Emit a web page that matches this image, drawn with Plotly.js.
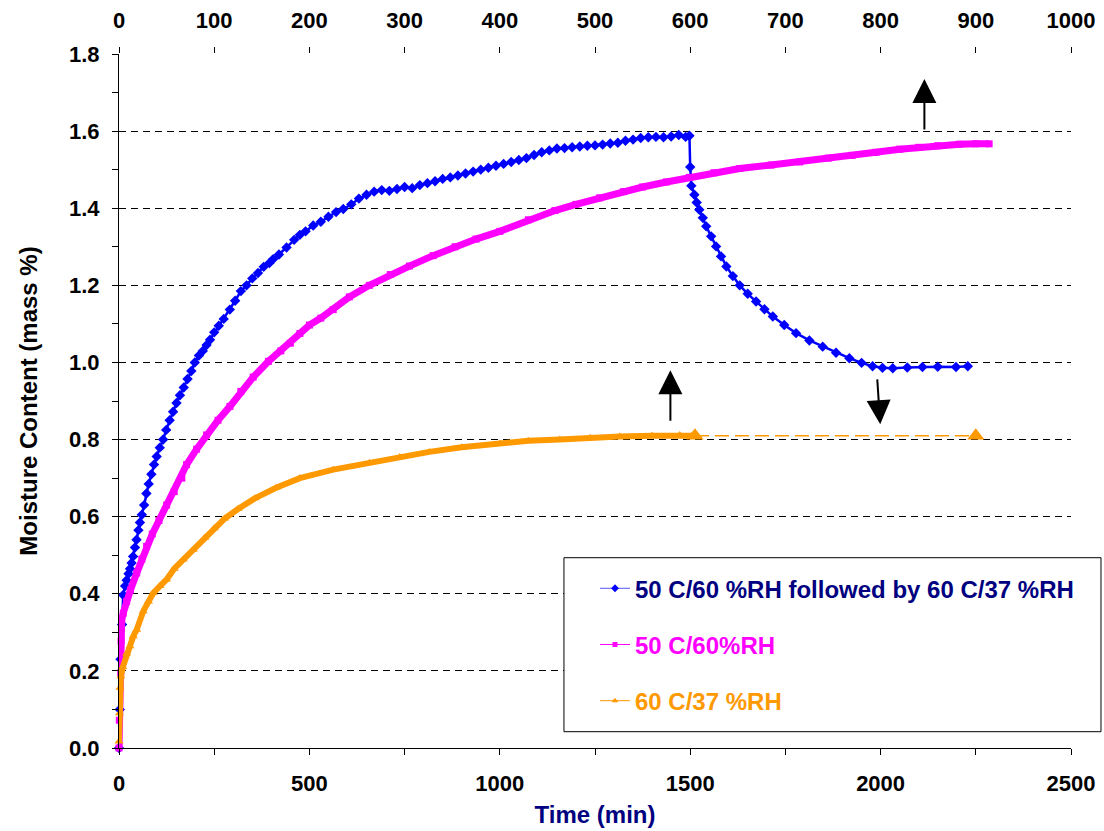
<!DOCTYPE html>
<html>
<head>
<meta charset="utf-8">
<script src="https://cdn.plot.ly/plotly-3.0.1.min.js"></script>
<style>
  html, body { margin: 0; padding: 0; background: #ffffff; }
  #chart { width: 1104px; height: 831px; }
</style>
</head>
<body>
<div id="chart"></div>
<script>
// Sorption run: 50 C/60 %RH, then switched to 60 C/37 %RH (bottom time axis, min)
const switchTime = [0, 2, 4, 8, 11, 16, 20, 25, 29, 33, 37, 42, 46, 51, 55, 60, 66, 72, 78, 85,
  92, 99, 107, 116, 124, 133, 142, 151, 160, 170, 180, 190, 199, 210, 220, 230, 239, 250, 262, 275,
  291, 305, 320, 335, 350, 365, 380, 395, 405, 420, 440, 460, 475, 490, 510, 530, 550, 570, 589, 610,
  630, 650, 670, 690, 710, 730, 750, 770, 790, 810, 830, 850, 870, 890, 910, 930, 950, 970, 990, 1010,
  1030, 1050, 1070, 1090, 1110, 1130, 1150, 1170, 1190, 1210, 1230, 1250, 1270, 1290, 1310, 1330, 1350, 1370, 1390, 1410,
  1430, 1450, 1470, 1488, 1498, 1500, 1503, 1511, 1517, 1524, 1533, 1542, 1555, 1568, 1581, 1595, 1612, 1630, 1651, 1673,
  1695, 1717, 1747, 1778, 1813, 1848, 1883, 1918, 1950, 1979, 2005, 2032, 2070, 2110, 2150, 2198, 2229];
const switchMoisture = [0, 0.10, 0.23, 0.32, 0.397, 0.42, 0.435, 0.452, 0.465, 0.48, 0.497, 0.52, 0.54, 0.565, 0.585, 0.605, 0.63, 0.66, 0.685, 0.71,
  0.735, 0.756, 0.779, 0.80, 0.825, 0.85, 0.872, 0.895, 0.915, 0.935, 0.957, 0.978, 1.0, 1.018, 1.03, 1.045, 1.059, 1.078, 1.095, 1.113,
  1.137, 1.16, 1.185, 1.20, 1.218, 1.232, 1.248, 1.258, 1.268, 1.28, 1.298, 1.318, 1.331, 1.34, 1.355, 1.365, 1.378, 1.39, 1.398, 1.41,
  1.425, 1.435, 1.443, 1.447, 1.445, 1.45, 1.455, 1.452, 1.46, 1.465, 1.47, 1.476, 1.48, 1.485, 1.49, 1.495, 1.50, 1.505, 1.51, 1.515,
  1.52, 1.525, 1.53, 1.538, 1.545, 1.55, 1.555, 1.556, 1.558, 1.56, 1.562, 1.563, 1.565, 1.568, 1.57, 1.575, 1.578, 1.582, 1.584, 1.585,
  1.584, 1.586, 1.59, 1.585, 1.588, 1.507, 1.458, 1.435, 1.415, 1.396, 1.375, 1.353, 1.327, 1.301, 1.275, 1.249, 1.224, 1.20, 1.178, 1.158,
  1.138, 1.119, 1.097, 1.076, 1.057, 1.041, 1.025, 1.011, 0.999, 0.990, 0.986, 0.985, 0.987, 0.988, 0.989, 0.988, 0.99];

// 50 C/60 %RH (top time axis, min)
const humidTime = [0, 0.3, 1.8, 2.2, 2.8, 4.5, 8, 12, 18.6, 24, 29, 35, 42, 50, 58, 66, 71, 81.5, 92, 104,
  116.5, 128, 141, 157, 170, 180, 190, 200, 212, 225, 242, 263, 285, 305, 330, 353, 375, 400, 430, 458,
  480, 505, 530, 550, 575, 599, 625, 652, 685, 715, 745, 770, 795, 820, 840, 860, 883, 900, 914];
const humidMoisture = [0, 0.072, 0.195, 0.277, 0.333, 0.35, 0.38, 0.41, 0.454, 0.49, 0.523, 0.555, 0.59, 0.63, 0.665, 0.70, 0.735, 0.775, 0.812, 0.85,
  0.886, 0.925, 0.962, 1.003, 1.03, 1.05, 1.075, 1.097, 1.115, 1.137, 1.17, 1.20, 1.228, 1.25, 1.277, 1.30, 1.32, 1.34, 1.37, 1.394,
  1.41, 1.427, 1.443, 1.455, 1.468, 1.48, 1.492, 1.503, 1.512, 1.52, 1.53, 1.537, 1.545, 1.553, 1.558, 1.562, 1.566, 1.567, 1.567];

// 60 C/37 %RH (top time axis, min)
const dryTime = [0, 0.5, 1, 2, 4, 8, 11.5, 15, 18.6, 25.5, 31, 36, 43, 50, 58, 67.5, 78, 90, 100, 111,
  125, 143, 165, 190, 225, 263, 295, 326, 360, 400, 430, 463, 495, 526, 560, 589, 602];
const dryMoisture = [0.017, 0.09, 0.156, 0.186, 0.21, 0.245, 0.264, 0.29, 0.307, 0.355, 0.38, 0.402, 0.42, 0.437, 0.465, 0.489, 0.514, 0.545, 0.57, 0.595,
  0.62, 0.648, 0.675, 0.70, 0.722, 0.74, 0.755, 0.768, 0.78, 0.79, 0.797, 0.80, 0.805, 0.808, 0.81, 0.812, 0.81];
const dryEndTime = [605, 900];
const dryEndMoisture = [0.81, 0.81];

// Legend labels
const seriesNames = [
  '50 C/60 %RH followed by 60 C/37 %RH',
  '50 C/60%RH',
  '60 C/37 %RH'
];

// Arrows showing which time axis each curve is read against: [x tail, y tail, x tip, y tip] on the bottom axis
const axisArrows = [
  [2115, 1.60, 2115, 1.735],
  [1448, 0.845, 1448, 0.98],
  [1991, 0.96, 1999, 0.84]
];

const FONT = 'Liberation Sans, Arial, sans-serif';
const BLUE = '#0000FF', MAGENTA = '#FF00FF', ORANGE = '#FF9900', NAVY = '#000080';

const traces = [
  {
    x: humidTime, y: humidMoisture, xaxis: 'x2', yaxis: 'y', type: 'scatter', mode: 'lines+markers',
    line: { color: MAGENTA, width: 7 }, marker: { symbol: 'square', size: 7, color: MAGENTA },
    showlegend: false, cliponaxis: false, hoverinfo: 'skip'
  },
  {
    x: dryTime, y: dryMoisture, xaxis: 'x2', yaxis: 'y', type: 'scatter', mode: 'lines+markers',
    line: { color: ORANGE, width: 6 }, marker: { symbol: 'triangle-up', size: 8, color: ORANGE },
    showlegend: false, cliponaxis: false, hoverinfo: 'skip'
  },
  {
    x: dryEndTime, y: dryEndMoisture, xaxis: 'x2', yaxis: 'y', type: 'scatter', mode: 'lines+markers',
    line: { color: ORANGE, width: 1.5, dash: '14px,6px' }, marker: { symbol: 'triangle-up', size: 15, color: ORANGE },
    showlegend: false, cliponaxis: false, hoverinfo: 'skip'
  },
  {
    x: switchTime, y: switchMoisture, xaxis: 'x', yaxis: 'y', type: 'scatter', mode: 'lines+markers',
    line: { color: BLUE, width: 2.5 }, marker: { symbol: 'diamond', size: 8, color: BLUE },
    showlegend: false, cliponaxis: false, hoverinfo: 'skip'
  },
  // legend entries
  {
    x: [null], y: [null], type: 'scatter', mode: 'lines+markers', legendgroup: 'a',
    name: '<span style="color:' + NAVY + '">' + seriesNames[0] + '</span>',
    line: { color: '#5555FF', width: 1 }, marker: { symbol: 'diamond', size: 6, color: BLUE }
  },
  {
    x: [null], y: [null], type: 'scatter', mode: 'lines+markers', legendgroup: 'b',
    name: '<span style="color:' + MAGENTA + '">' + seriesNames[1] + '</span>',
    line: { color: MAGENTA, width: 1 }, marker: { symbol: 'square', size: 5, color: MAGENTA }
  },
  {
    x: [null], y: [null], type: 'scatter', mode: 'lines+markers', legendgroup: 'c',
    name: '<span style="color:' + ORANGE + '">' + seriesNames[2] + '</span>',
    line: { color: ORANGE, width: 1 }, marker: { symbol: 'triangle-up', size: 6, color: ORANGE }
  }
];

const tickFont = { family: FONT, size: 22, color: '#000000', weight: 'bold' };

const annotations = axisArrows.map(a => ({
  x: a[2], y: a[3], ax: a[0], ay: a[1], xref: 'x', yref: 'y', axref: 'x', ayref: 'y',
  text: '', showarrow: true, arrowhead: 2, arrowsize: 2.4, arrowwidth: 2, arrowcolor: '#000000', standoff: 0, startstandoff: 0
}));

const layout = {
  width: 1104, height: 831,
  margin: { l: 119, r: 33, t: 54, b: 83, pad: 0 },
  paper_bgcolor: '#ffffff', plot_bgcolor: '#ffffff',
  font: { family: FONT, color: '#000000' },
  showlegend: true,
  xaxis: {
    range: [0, 2500], dtick: 500, tick0: 0, showgrid: false, zeroline: false,
    showline: true, linecolor: '#000000', linewidth: 1,
    ticks: 'outside', ticklen: 6, tickcolor: '#000000', tickwidth: 1,
    minor: { dtick: 250, ticks: 'outside', ticklen: 6, tickcolor: '#000000', tickwidth: 1, showgrid: false },
    tickfont: tickFont, ticklabelstandoff: 10,
    title: { text: 'Time (min)', font: { family: FONT, size: 24, color: NAVY, weight: 'bold' }, standoff: 10 },
    fixedrange: true
  },
  xaxis2: {
    overlaying: 'x', side: 'top', anchor: 'y', range: [0, 1000], dtick: 100, tick0: 0,
    showgrid: false, zeroline: false, showline: false,
    ticks: 'outside', ticklen: 6, tickcolor: '#000000', tickwidth: 1,
    tickfont: tickFont, ticklabelstandoff: 10, fixedrange: true
  },
  xaxis3: {
    overlaying: 'x', side: 'top', anchor: 'y', range: [0, 1000], dtick: 100, tick0: 0,
    showgrid: false, zeroline: false, showline: false, showticklabels: false,
    ticks: 'inside', ticklen: 6, tickcolor: '#000000', tickwidth: 1, fixedrange: true
  },
  yaxis: {
    range: [0, 1.8], dtick: 0.2, tick0: 0, tickformat: '.1f',
    showgrid: true, gridcolor: '#000000', gridwidth: 1, griddash: '7px,5px', zeroline: false,
    showline: true, linecolor: '#000000', linewidth: 1,
    ticks: 'outside', ticklen: 6, tickcolor: '#000000', tickwidth: 1,
    minor: { dtick: 0.1, ticks: 'outside', ticklen: 6, tickcolor: '#000000', tickwidth: 1, showgrid: false },
    tickfont: tickFont, ticklabelstandoff: 8,
    title: { text: 'Moisture Content (mass %)', font: { family: FONT, size: 24, color: '#000000', weight: 'bold' }, standoff: 24 },
    fixedrange: true
  },
  legend: {
    x: 0.5, y: 0.262, xanchor: 'left', yanchor: 'top',
    bgcolor: 'rgba(0,0,0,0)', borderwidth: 0,
    font: { family: FONT, size: 24, weight: 'bold' },
    traceorder: 'grouped', tracegroupgap: 22, itemwidth: 30
  },
  shapes: [
    {
      type: 'rect', xref: 'paper', yref: 'paper', x0: 0.4674, x1: 1.0315, y0: 0.0235, y1: 0.2742,
      line: { color: '#000000', width: 1 }, fillcolor: '#ffffff', layer: 'above'
    }
  ],
  annotations: annotations
};

Plotly.newPlot('chart', traces, layout, { staticPlot: true, displayModeBar: false });
</script>
</body>
</html>
